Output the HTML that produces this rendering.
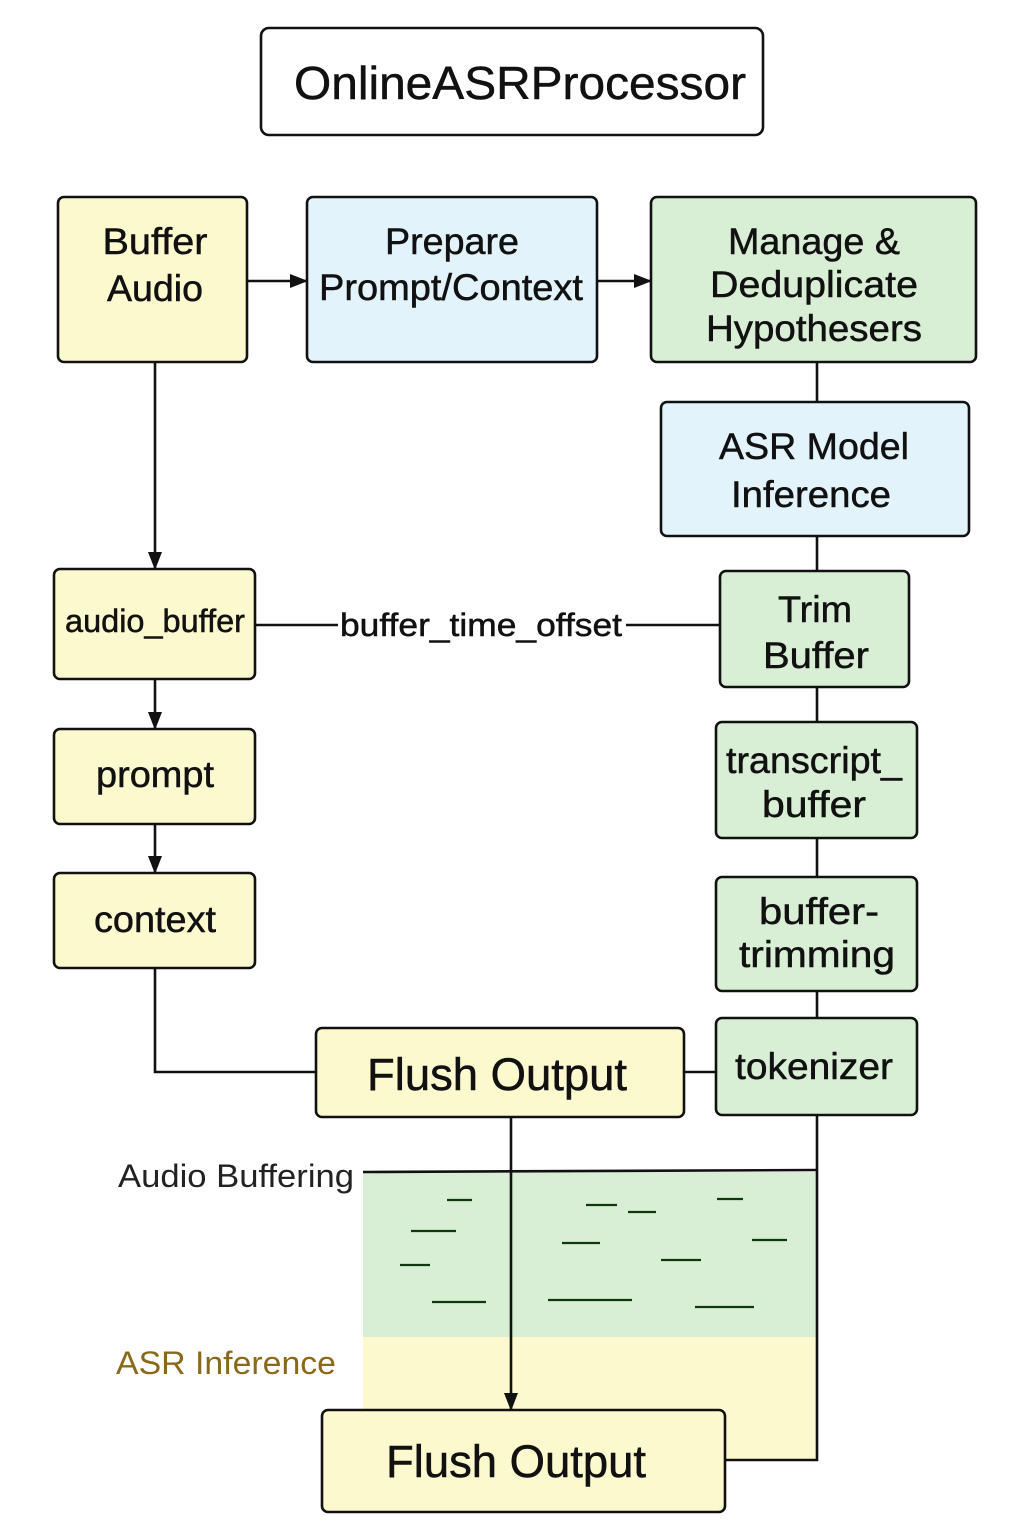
<!DOCTYPE html>
<html><head><meta charset="utf-8"><style>html,body{margin:0;padding:0;background:#fff}svg{display:block}</style></head>
<body>
<svg width="1024" height="1536" viewBox="0 0 1024 1536" xmlns="http://www.w3.org/2000/svg" font-family="Liberation Sans, sans-serif">
<defs>
<marker id="b" markerWidth="18" markerHeight="18" refX="17" refY="9" orient="auto" markerUnits="userSpaceOnUse"><path d="M0,2 L18,9 L0,16 Z" fill="#111"/></marker></defs>
<rect x="363" y="1172" width="454" height="166" fill="#d9efd5"/>
<rect x="363" y="1337" width="454" height="123" fill="#fdf9cf"/>
<g stroke="#0d3a0d" stroke-width="2.2">
<line x1="447" y1="1200" x2="472" y2="1200"/><line x1="411" y1="1231" x2="456" y2="1231"/>
<line x1="400" y1="1265" x2="430" y2="1265"/><line x1="432" y1="1302" x2="486" y2="1302"/>
<line x1="586" y1="1205" x2="617" y2="1205"/><line x1="628" y1="1212" x2="656" y2="1212"/>
<line x1="717" y1="1199" x2="743" y2="1199"/><line x1="562" y1="1243" x2="600" y2="1243"/>
<line x1="752" y1="1240" x2="787" y2="1240"/><line x1="661" y1="1260" x2="701" y2="1260"/>
<line x1="548" y1="1300" x2="632" y2="1300"/><line x1="695" y1="1307" x2="754" y2="1307"/>
</g>
<g stroke="#111" stroke-width="2.6" fill="none">
<line x1="247" y1="281" x2="307" y2="281" marker-end="url(#b)"/>
<line x1="597" y1="281" x2="651" y2="281" marker-end="url(#b)"/>
<line x1="155" y1="362" x2="155" y2="569" marker-end="url(#b)"/>
<line x1="155" y1="679" x2="155" y2="729" marker-end="url(#b)"/>
<line x1="155" y1="824" x2="155" y2="873" marker-end="url(#b)"/>
<polyline points="155,968 155,1072 316,1072"/>
<line x1="684" y1="1072" x2="716" y2="1072"/>
<line x1="255" y1="625" x2="338" y2="625"/><line x1="626" y1="625" x2="720" y2="625"/>
<line x1="817" y1="362" x2="817" y2="402"/><line x1="817" y1="536" x2="817" y2="571"/>
<line x1="817" y1="687" x2="817" y2="722"/><line x1="817" y1="838" x2="817" y2="877"/>
<line x1="817" y1="991" x2="817" y2="1018"/>
<polyline points="817,1115 817,1460 725,1460"/>
<line x1="363" y1="1172" x2="817" y2="1170"/>
<line x1="511" y1="1117" x2="511" y2="1410" marker-end="url(#b)"/>
</g>
<g stroke="#111" stroke-width="2.6">
<rect x="261" y="28" width="502" height="107" rx="8" fill="#fff"/>
<rect x="58" y="197" width="189" height="165" rx="6" fill="#fdf9cf"/>
<rect x="307" y="197" width="290" height="165" rx="6" fill="#e3f3fc"/>
<rect x="651" y="197" width="325" height="165" rx="6" fill="#d9efd5"/>
<rect x="661" y="402" width="308" height="134" rx="6" fill="#e3f3fc"/>
<rect x="54" y="569" width="201" height="110" rx="6" fill="#fdf9cf"/>
<rect x="720" y="571" width="189" height="116" rx="6" fill="#d9efd5"/>
<rect x="54" y="729" width="201" height="95" rx="6" fill="#fdf9cf"/>
<rect x="716" y="722" width="201" height="116" rx="6" fill="#d9efd5"/>
<rect x="54" y="873" width="201" height="95" rx="6" fill="#fdf9cf"/>
<rect x="716" y="877" width="201" height="114" rx="6" fill="#d9efd5"/>
<rect x="716" y="1018" width="201" height="97" rx="6" fill="#d9efd5"/>
<rect x="316" y="1028" width="368" height="89" rx="6" fill="#fdf9cf"/>
<rect x="322" y="1410" width="403" height="102" rx="6" fill="#fdf9cf"/>
</g>
<g fill="#111" text-anchor="middle" font-size="37" stroke="#111" stroke-width="0.5">
<text x="520" y="99" font-size="46" textLength="452" lengthAdjust="spacingAndGlyphs">OnlineASRProcessor</text>
<text x="155" y="254" textLength="105" lengthAdjust="spacingAndGlyphs">Buffer</text><text x="155" y="301" textLength="96" lengthAdjust="spacingAndGlyphs">Audio</text>
<text x="452" y="254" textLength="134" lengthAdjust="spacingAndGlyphs">Prepare</text><text x="451" y="300" textLength="264" lengthAdjust="spacingAndGlyphs">Prompt/Context</text>
<text x="814" y="254" textLength="172" lengthAdjust="spacingAndGlyphs">Manage &amp;</text><text x="814" y="297" textLength="208" lengthAdjust="spacingAndGlyphs">Deduplicate</text><text x="814" y="341" textLength="216" lengthAdjust="spacingAndGlyphs">Hypothesers</text>
<text x="814" y="459" textLength="190" lengthAdjust="spacingAndGlyphs">ASR Model</text><text x="811" y="507" textLength="160" lengthAdjust="spacingAndGlyphs">Inference</text>
<text x="155" y="632" font-size="32" textLength="180" lengthAdjust="spacingAndGlyphs">audio_buffer</text>
<text x="481" y="636" font-size="32" textLength="282" lengthAdjust="spacingAndGlyphs">buffer_time_offset</text>
<text x="815" y="622" textLength="74" lengthAdjust="spacingAndGlyphs">Trim</text><text x="816" y="668" textLength="106" lengthAdjust="spacingAndGlyphs">Buffer</text>
<text x="155" y="787" textLength="118" lengthAdjust="spacingAndGlyphs">prompt</text>
<text x="814" y="773" textLength="176" lengthAdjust="spacingAndGlyphs">transcript_</text><text x="814" y="817" textLength="104" lengthAdjust="spacingAndGlyphs">buffer</text>
<text x="155" y="932" textLength="122" lengthAdjust="spacingAndGlyphs">context</text>
<text x="819" y="924" textLength="120" lengthAdjust="spacingAndGlyphs">buffer-</text><text x="817" y="967" textLength="156" lengthAdjust="spacingAndGlyphs">trimming</text>
<text x="814" y="1079" textLength="158" lengthAdjust="spacingAndGlyphs">tokenizer</text>
<text x="497" y="1090" font-size="45" textLength="260" lengthAdjust="spacingAndGlyphs">Flush Output</text>
<text x="516" y="1477" font-size="45" textLength="260" lengthAdjust="spacingAndGlyphs">Flush Output</text>
</g>
<text x="118" y="1187" font-size="32" fill="#222" textLength="236" lengthAdjust="spacingAndGlyphs">Audio Buffering</text>
<text x="116" y="1374" font-size="32" fill="#8a6a1a" textLength="220" lengthAdjust="spacingAndGlyphs">ASR Inference</text>
</svg>
</body></html>
